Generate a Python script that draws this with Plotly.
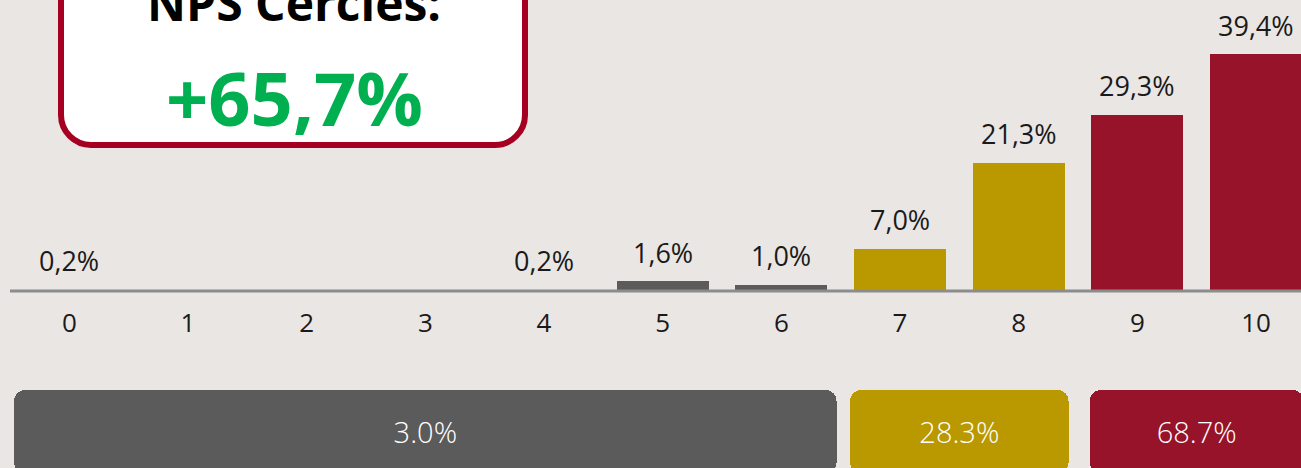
import plotly.graph_objects as go

# ---------------- data ----------------
scores = list(range(11))
pct = [0.2, 0.0, 0.0, 0.0, 0.2, 1.6, 1.0, 7.0, 21.3, 29.3, 39.4]
tick_labels = [str(s) for s in scores]

group_names = ["Detractores", "Pasivos", "Promotores"]
group_first = [0, 7, 9]
group_last = [6, 8, 10]
group_values = [3.0, 28.3, 68.7]
nps_value = 65.7
nps_title = "NPS Cercles:"

# ---------------- styles ----------------
BG = "#EAE6E3"
GRAY = "#5B5B5B"
GOLD = "#BA9800"
RED = "#961329"
GREEN = "#00B050"
BORDER = "#A50021"
FONT = "Open Sans"
W, H = 1301, 468


def group_color(s):
    if s <= group_last[0]:
        return GRAY
    if s <= group_last[1]:
        return GOLD
    return RED


def fmt_comma(v):
    return f"{v:.1f}".replace(".", ",") + "%"


bar_colors = [group_color(s) for s in scores]

fig = go.Figure()

# main distribution bars
fig.add_trace(go.Bar(
    x=scores, y=pct, width=0.775,
    marker=dict(color=bar_colors, line=dict(width=0)),
    hoverinfo="skip", xaxis="x", yaxis="y",
))

# summary bars (one per NPS group)
g_gap = [0.07, 0.16, 0.2]
g_center = [(a + b) / 2 for a, b in zip(group_first, group_last)]
g_width = [(b - a + 1) - gp for a, b, gp in zip(group_first, group_last, g_gap)]
g_colors = [GRAY, GOLD, RED]
fig.add_trace(go.Bar(
    x=g_center, y=[1.5] * 3, base=[-0.5] * 3, width=g_width,
    marker=dict(color=g_colors, line=dict(width=0), cornerradius=11),
    text=[f"{v:.1f}%" for v in group_values],
    textposition="inside", insidetextanchor="middle", textangle=0,
    insidetextfont=dict(family=FONT, size=29, color="white", weight=300),
    constraintext="none",
    hoverinfo="skip", xaxis="x2", yaxis="y2",
))

# value labels above bars
annotations = []
for s, v in zip(scores, pct):
    if v > 0:
        annotations.append(dict(
            x=s, y=v, xref="x", yref="y", text=fmt_comma(v),
            showarrow=False, yanchor="middle", xanchor="center", yshift=29,
            font=dict(family=FONT, size=27, color="#1A1A1A"),
        ))


def px_x(p):
    return p / W


def px_y(p):
    return 1 - p / H


# NPS box (rounded rectangle cut by top edge)
x0, x1, yb, yt, r = 61, 525, 145, -40, 30
path = (
    f"M {px_x(x0)},{px_y(yt)} "
    f"L {px_x(x0)},{px_y(yb - r)} "
    f"C {px_x(x0)},{px_y(yb - r * 0.45)} {px_x(x0 + r * 0.45)},{px_y(yb)} {px_x(x0 + r)},{px_y(yb)} "
    f"L {px_x(x1 - r)},{px_y(yb)} "
    f"C {px_x(x1 - r * 0.45)},{px_y(yb)} {px_x(x1)},{px_y(yb - r * 0.45)} {px_x(x1)},{px_y(yb - r)} "
    f"L {px_x(x1)},{px_y(yt)} Z"
)
x_dom = [10 / W, 1]
shapes = [
    dict(type="path", xref="paper", yref="paper", path=path,
         fillcolor="white", line=dict(color=BORDER, width=6), layer="above"),
    # baseline of the distribution chart (at y = 0)
    dict(type="line", xref="paper", yref="y", x0=x_dom[0], x1=x_dom[1], y0=0, y1=0,
         line=dict(color="#8C8C8C", width=3), layer="above"),
]

box_cx = (x0 + x1) / 2 + 1
annotations.append(dict(
    x=px_x(box_cx), y=px_y(19 - 0.35 * 48), xref="paper", yref="paper",
    text=f"<b>{nps_title}</b>", showarrow=False, xanchor="center", yanchor="middle",
    font=dict(family=FONT, size=48, color="black"),
))
annotations.append(dict(
    x=px_x(box_cx), y=px_y(123 - 0.35 * 74), xref="paper", yref="paper",
    text=f"<b>+{nps_value:.1f}%</b>".replace(".", ","), showarrow=False,
    xanchor="center", yanchor="middle",
    font=dict(family=FONT, size=74, color=GREEN),
))

x_range = [-0.5, (W - 69.3) / 118.67]
base_px = 291
pad_px = 4
scale = 6.015

fig.update_layout(
    width=W, height=H,
    margin=dict(l=0, r=0, t=0, b=0),
    paper_bgcolor=BG, plot_bgcolor=BG,
    showlegend=False, hovermode=False,
    bargap=0,
    xaxis=dict(domain=x_dom, range=x_range, tickvals=scores, ticktext=tick_labels,
               tickfont=dict(family=FONT, size=26, color="#1A1A1A"),
               ticks="outside", ticklen=5, tickcolor="rgba(0,0,0,0)",
               showline=False, showgrid=False, zeroline=False, fixedrange=True),
    yaxis=dict(domain=[1 - (base_px + pad_px) / H, 1],
               range=[-pad_px / scale, base_px / scale],
               visible=False, showgrid=False, zeroline=False, fixedrange=True),
    xaxis2=dict(domain=x_dom, range=x_range, anchor="y2", visible=False,
                showgrid=False, zeroline=False, fixedrange=True),
    yaxis2=dict(domain=[0, (H - 390) / H], range=[-0.4, 1], anchor="x2",
                visible=False, showgrid=False, zeroline=False, fixedrange=True),
    shapes=shapes,
    annotations=annotations,
)

fig.write_html(
    "out.html",
    config={"displayModeBar": False, "staticPlot": True},
    post_script="document.body.style.margin='0px';document.body.style.background='%s';" % BG,
)
